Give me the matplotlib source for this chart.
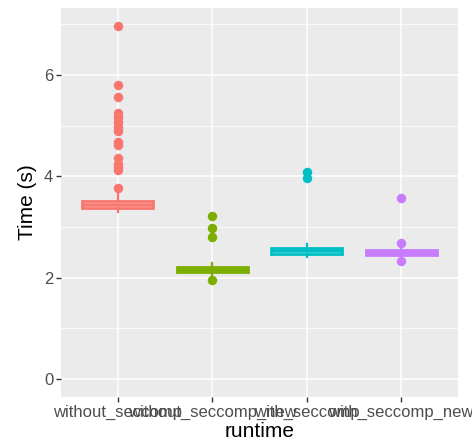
import numpy as np
import matplotlib.pyplot as plt

plt.rcParams['font.family'] = ['Liberation Sans', 'DejaVu Sans']

# runtimes and box statistics
runtimes = ['without_seccomp', 'without_seccomp_new', 'with_seccomp', 'with_seccomp_new']
colors = ['#F8766D', '#7CAE00', '#00BFC4', '#C77CFF']

q1 = [3.38, 2.11, 2.47, 2.44]
medians = [3.44, 2.16, 2.52, 2.49]
q3 = [3.51, 2.21, 2.58, 2.54]
whisk_lo = [3.30, 2.05, 2.40, 2.39]
whisk_hi = [3.67, 2.30, 2.66, 2.62]
outliers = [
    [6.97, 5.81, 5.57, 5.25, 5.18, 5.08, 4.98, 4.90, 4.68, 4.62,
     4.37, 4.25, 4.19, 4.12, 3.78],
    [3.22, 2.99, 2.81, 1.95],
    [4.09, 3.97],
    [3.58, 2.69, 2.33],
]

fig = plt.figure(figsize=(4.72, 4.46), dpi=100)
ax = fig.add_axes([0.129, 0.110, 0.841, 0.872])
ax.set_facecolor('#EBEBEB')

positions = np.arange(1, len(runtimes) + 1)

# gridlines like ggplot
for y in [1, 3, 5, 7]:
    ax.axhline(y, color='white', lw=0.55, zorder=0)
for y in [0, 2, 4, 6]:
    ax.axhline(y, color='white', lw=1.1, zorder=0)
for x in positions:
    ax.axvline(x, color='white', lw=1.1, zorder=0)

for i, pos in enumerate(positions):
    stats = [{
        'med': medians[i], 'q1': q1[i], 'q3': q3[i],
        'whislo': whisk_lo[i], 'whishi': whisk_hi[i],
        'fliers': outliers[i],
    }]
    c = colors[i]
    ax.bxp(stats, positions=[pos], widths=0.75, patch_artist=True,
           showcaps=False,
           boxprops=dict(facecolor='white', edgecolor=c, lw=2.0),
           medianprops=dict(color=c, lw=2.6, solid_capstyle='butt'),
           whiskerprops=dict(color=c, lw=1.6),
           flierprops=dict(marker='o', markerfacecolor=c, markeredgecolor=c,
                           markersize=5.8, linestyle='none'))

ax.set_xlim(0.4, 4.6)
ax.set_ylim(-0.35, 7.32)
ax.set_yticks([0, 2, 4, 6])
ax.set_xticks(positions)
ax.set_xticklabels(runtimes)

for s in ax.spines.values():
    s.set_visible(False)
ax.tick_params(axis='both', length=3.5, width=1.0, color='#333333',
               labelcolor='#4D4D4D', labelsize=12, pad=2)

ax.set_xlabel('runtime', fontsize=15, labelpad=2)
ax.set_ylabel('Time (s)', fontsize=15, labelpad=5)

fig.savefig('out.png', dpi=100)
